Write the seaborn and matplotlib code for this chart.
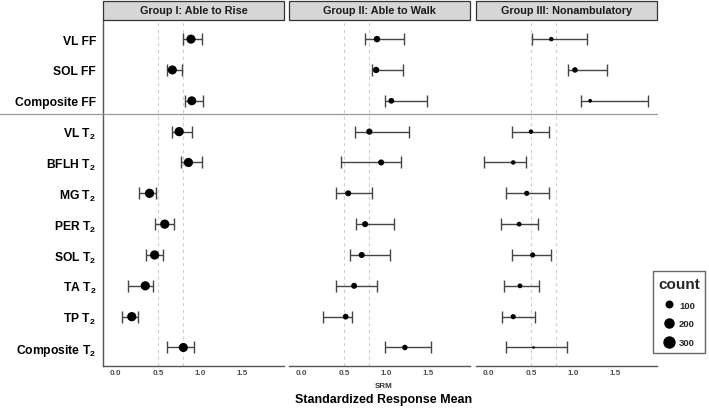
import numpy as np
import pandas as pd
import seaborn as sns
import matplotlib.pyplot as plt
import matplotlib.transforms as mtransforms
from matplotlib.lines import Line2D
from matplotlib.patches import Rectangle

# measures (rows, top to bottom)
measures = ["VL FF", "SOL FF", "Composite FF",
            r"VL T$_\mathbf{2}$", r"BFLH T$_\mathbf{2}$", r"MG T$_\mathbf{2}$",
            r"PER T$_\mathbf{2}$", r"SOL T$_\mathbf{2}$", r"TA T$_\mathbf{2}$",
            r"TP T$_\mathbf{2}$", r"Composite T$_\mathbf{2}$"]
groups = ["Group I: Able to Rise", "Group II: Able to Walk", "Group III: Nonambulatory"]

# standardized response mean and 95% CI, per group
srm_1 = [0.89, 0.67, 0.90, 0.75, 0.86, 0.40, 0.58, 0.46, 0.35, 0.19, 0.80]
lo_1 = [0.80, 0.61, 0.82, 0.67, 0.77, 0.28, 0.46, 0.36, 0.15, 0.08, 0.61]
hi_1 = [1.02, 0.78, 1.03, 0.90, 1.02, 0.48, 0.69, 0.56, 0.44, 0.26, 0.93]

srm_2 = [0.89, 0.88, 1.06, 0.80, 0.94, 0.55, 0.75, 0.71, 0.62, 0.52, 1.22]
lo_2 = [0.75, 0.83, 0.99, 0.63, 0.47, 0.41, 0.64, 0.57, 0.40, 0.25, 0.99]
hi_2 = [1.21, 1.20, 1.48, 1.27, 1.18, 0.83, 1.09, 1.04, 0.89, 0.59, 1.53]

srm_3 = [0.74, 1.02, 1.20, 0.50, 0.29, 0.45, 0.36, 0.52, 0.37, 0.29, 0.53]
lo_3 = [0.51, 0.94, 1.09, 0.28, -0.06, 0.20, 0.14, 0.28, 0.18, 0.16, 0.21]
hi_3 = [1.16, 1.40, 1.88, 0.71, 0.44, 0.71, 0.58, 0.74, 0.59, 0.55, 0.92]

count_1 = [140, 138, 136, 146, 144, 146, 146, 146, 146, 146, 140]
count_2 = [56, 52, 40, 50, 46, 44, 46, 46, 44, 40, 34]
count_3 = [17, 34, 9, 17, 17, 28, 22, 28, 22, 28, 1]

legend_counts = [100, 200, 300]

rows = []
for g, srm, lo, hi, cnt in zip(groups, [srm_1, srm_2, srm_3], [lo_1, lo_2, lo_3],
                               [hi_1, hi_2, hi_3], [count_1, count_2, count_3]):
    for i, m in enumerate(measures):
        rows.append({"group": g, "measure": m, "pos": i, "srm": srm[i],
                     "lo": lo[i], "hi": hi[i], "count": cnt[i]})
df = pd.DataFrame(rows)


def diam_pt(c):
    # point diameter (in points) for a count, area-style scale
    return (2.0 + 0.6 * np.sqrt(c)) * 0.72


size_map = {c: diam_pt(c) ** 2 for c in df["count"].unique()}

sns.set_theme(style="white")
plt.rcParams["font.family"] = ["Liberation Sans", "DejaVu Sans"]
plt.rcParams["mathtext.fontset"] = "custom"
plt.rcParams["mathtext.rm"] = "Liberation Sans"
plt.rcParams["mathtext.bf"] = "Liberation Sans:bold"

fig = plt.figure(figsize=(7.09, 4.10), dpi=100)
lefts = [103, 289, 476]
axes = []
for k, g in enumerate(groups):
    ax = fig.add_axes([lefts[k] / 709, 1 - 367 / 410, 181 / 709, 346 / 410])
    axes.append(ax)
    d = df[df["group"] == g]
    for xv in (0.5, 0.8):
        ax.axvline(xv, color="#cfcfcf", ls=(0, (3, 3)), lw=0.8, zorder=1)
    ax.errorbar(d["srm"], d["pos"], xerr=[d["srm"] - d["lo"], d["hi"] - d["srm"]],
                fmt="none", ecolor="#444444", elinewidth=1.0, capsize=4.2,
                capthick=1.0, zorder=2)
    sns.scatterplot(data=d, x="srm", y="pos", size="count", sizes=size_map,
                    color="black", linewidth=0, legend=False, ax=ax, zorder=3)
    ax.set_xlim(-0.15, 1.99)
    ax.set_ylim(10.6, -0.62)
    ax.set_xticks([0.0, 0.5, 1.0, 1.5])
    ax.set_xticklabels(["0.0", "0.5", "1.0", "1.5"], fontsize=5.8,
                       fontweight="bold", color="#4d4d4d")
    ax.tick_params(axis="x", length=0, pad=2.5)
    ax.tick_params(axis="y", length=0, pad=5)
    ax.set_xlabel("")
    ax.set_ylabel("")
    ax.set_yticks(range(len(measures)))
    if k == 0:
        ax.set_yticklabels(measures, fontsize=8.7, fontweight="bold", color="black")
    else:
        ax.set_yticklabels([])
    for side in ["top", "right"]:
        ax.spines[side].set_visible(False)
    ax.spines["left"].set_visible(k == 0)
    ax.spines["left"].set_color("#555555")
    ax.spines["bottom"].set_color("#555555")
    ax.spines["left"].set_linewidth(1.0)
    ax.spines["bottom"].set_linewidth(1.0)
    # facet strip
    ax.add_patch(Rectangle((0, 1), 1, 19 / 346, transform=ax.transAxes,
                           facecolor="#d6d6d6", edgecolor="#333333", lw=0.9,
                           clip_on=False, zorder=5))
    ax.text(0.5, 1 + 9.5 / 346, g, transform=ax.transAxes, ha="center",
            va="center", fontsize=7.8, fontweight="bold", color="#1a1a1a", zorder=6)

# separator between FF and T2 measures
trans = mtransforms.blended_transform_factory(fig.transFigure, axes[0].transData)
fig.add_artist(Line2D([0, 657 / 709], [2.43, 2.43], transform=trans,
                      color="#9a9a9a", lw=0.9))

fig.text(384 / 709, 1 - 387 / 410, "SRM", ha="center", va="center",
         fontsize=5.8, fontweight="bold", color="#333333")
fig.text(384 / 709, 1 - 400 / 410, "Standardized Response Mean", ha="center",
         va="center", fontsize=9, fontweight="bold", color="black")

handles = [Line2D([], [], marker="o", ls="", color="black", markeredgewidth=0,
                  markersize=diam_pt(c)) for c in legend_counts]
leg = fig.legend(handles, [str(c) for c in legend_counts], title="count",
                 loc="center", bbox_to_anchor=(679 / 709, 1 - 313 / 410),
                 prop={"size": 6.8, "weight": "bold"},
                 title_fontproperties={"size": 11, "weight": "bold"},
                 frameon=True, fancybox=False, edgecolor="#666666", framealpha=1,
                 labelspacing=1.05, handletextpad=0.5, handlelength=1.2,
                 borderpad=0.55)
leg.get_frame().set_linewidth(1.0)

fig.savefig("out.png", dpi=100)
